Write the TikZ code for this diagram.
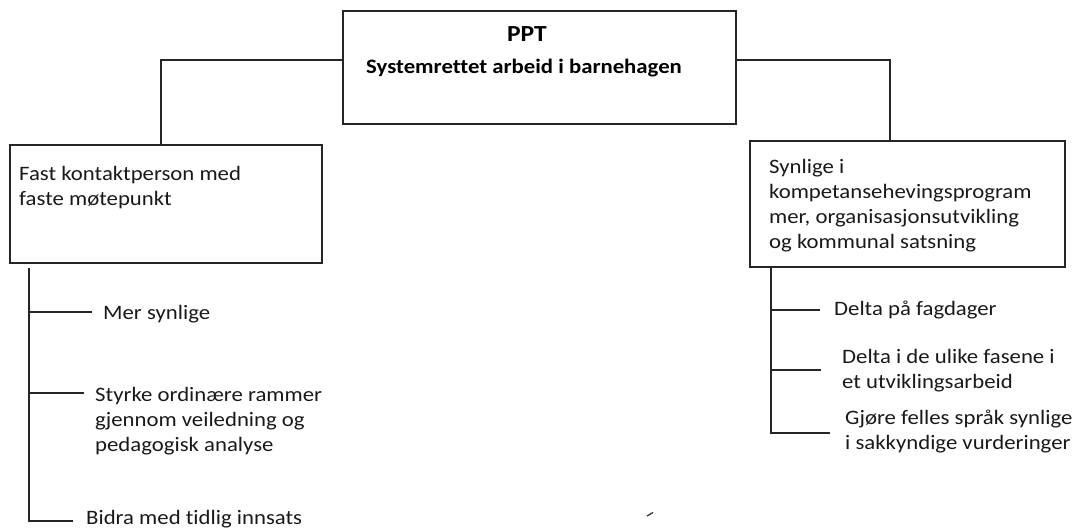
\documentclass[tikz,border=0pt]{standalone}
\usepackage{fontspec}
\setmainfont[FakeStretch=1.11, Ligatures={NoCommon}]{Carlito}
\begin{document}
\begin{tikzpicture}[x=1pt,y=-1pt,
  box/.style={draw=black!85, line width=1.4pt, inner sep=0pt},
  conn/.style={draw=black!85, line width=1.4pt},
  lbl/.style={anchor=west, inner sep=0pt, align=left, font=\fontsize{20.5}{25}\selectfont, text=black!90},
  ttl/.style={inner sep=0pt, font=\bfseries\fontsize{20.5}{25}\selectfont}]
\useasboundingbox (0,0) rectangle (1086,532);
% boxes
\node[box, minimum width=393pt, minimum height=113pt] (top) at (539.5,67.5) {};
\node[box, minimum width=312pt, minimum height=118pt] (left) at (166,204) {};
\node[box, minimum width=315pt, minimum height=126pt] (right) at (907.5,204) {};
% box texts
\node[ttl, font=\bfseries\fontsize{23}{25}\selectfont] (ppt) at (527,34) {PPT};
\node[ttl, anchor=west] (sys) at (366,68) {Systemrettet arbeid i barnehagen};
\node[lbl] (lt) at (19,187.5) {Fast kontaktperson med\\faste møtepunkt};
\node[lbl] (rt) at (769,206) {Synlige i\\kompetansehevingsprogram\\mer, organisasjonsutvikling\\og kommunal satsning};
% top connectors
\draw[conn] ([yshift=7.5pt]top.west) -| ([xshift=-5pt]left.north);
\draw[conn] ([yshift=7.5pt]top.east) -| ([xshift=-17.5pt]right.north);
% left tree
\coordinate (L0) at (29,268);
\coordinate (L1) at (92,312);
\coordinate (L2) at (84,393);
\coordinate (L3) at (73,521);
\draw[conn] (L0) |- (L3);
\draw[conn] (L0 |- L1) -- (L1);
\draw[conn] (L0 |- L2) -- (L2);
\node[lbl] (l1) at (103,314) {Mer synlige};
\node[lbl] (l2) at (95,421) {Styrke ordinære rammer\\gjennom veiledning og\\pedagogisk analyse};
\node[lbl] (l3) at (86,519) {Bidra med tidlig innsats};
% right tree
\coordinate (R0) at (771,267);
\coordinate (R1) at (820,310);
\coordinate (R2) at (821,370);
\coordinate (R3) at (830,433);
\draw[conn] (R0) |- (R3);
\draw[conn] (R0 |- R1) -- (R1);
\draw[conn] (R0 |- R2) -- (R2);
\node[lbl] (r1) at (834,310) {Delta på fagdager};
\node[lbl] (r2) at (842,370.5) {Delta i de ulike fasene i\\et utviklingsarbeid};
\node[lbl] (r3) at (845,431.5) {Gjøre felles språk synlige\\i sakkyndige vurderinger};
% stray mark
\draw[line width=1.3pt, black!80] (647,516) -- (653,512.5);
\end{tikzpicture}
\end{document}
